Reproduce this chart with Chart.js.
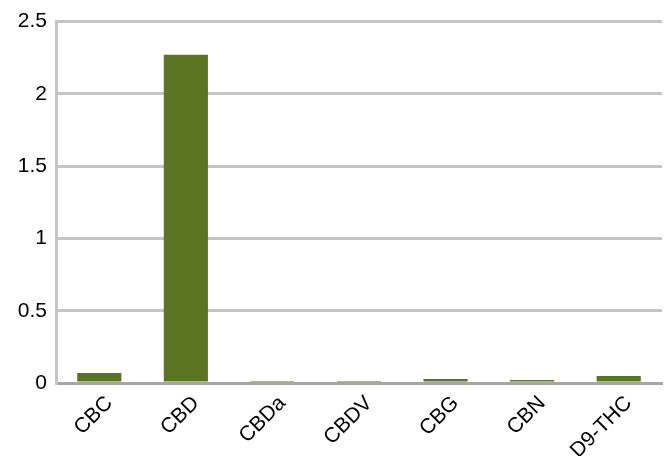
<!DOCTYPE html>
<html>
<head>
<meta charset="utf-8">
<script src="https://cdn.jsdelivr.net/npm/chart.js@4"></script>
<style>
  html, body { margin: 0; padding: 0; background: #fff; }
  #wrap { width: 667px; height: 456px; }
</style>
</head>
<body>
<div id="wrap"><canvas id="chart"></canvas></div>
<script>
// Data
const categories = ['CBC', 'CBD', 'CBDa', 'CBDV', 'CBG', 'CBN', 'D9-THC'];
const values = [0.069, 2.27, 0.014, 0.007, 0.028, 0.021, 0.048];
const yTicks = [0, 0.5, 1, 1.5, 2, 2.5];

Chart.defaults.font.family = '"Liberation Sans", Arial, sans-serif';
Chart.defaults.font.size = 21;
Chart.defaults.color = '#000';

new Chart(document.getElementById('chart'), {
    type: 'bar',
    data: {
        labels: categories,
        datasets: [{
            data: values,
            backgroundColor: '#5b7421',
            categoryPercentage: 1,
            barPercentage: 0.51
        }]
    },
    options: {
        responsive: true,
        maintainAspectRatio: false,
        animation: false,
        layout: { padding: { top: 13, right: 5, left: 0, bottom: 0 } },
        plugins: { legend: { display: false }, tooltip: { enabled: false } },
        scales: {
            x: {
                grid: { display: false, drawTicks: false },
                border: { color: '#a6a6a6', width: 3 },
                ticks: { minRotation: 45, maxRotation: 45, padding: 8, labelOffset: 10, font: { size: 21 } },
                afterFit: (scale) => { scale.height = 73; }
            },
            y: {
                min: 0,
                max: 2.5,
                afterBuildTicks: (scale) => { scale.ticks = yTicks.map(v => ({ value: v })); },
                grid: { color: '#c4c4c4', lineWidth: 3, drawTicks: false },
                border: { color: '#c4c4c4', width: 3 },
                ticks: { padding: 9, font: { size: 21 }, callback: (v) => String(v) },
                afterFit: (scale) => { scale.width = 56; }
            }
        }
    }
});
</script>
</body>
</html>
